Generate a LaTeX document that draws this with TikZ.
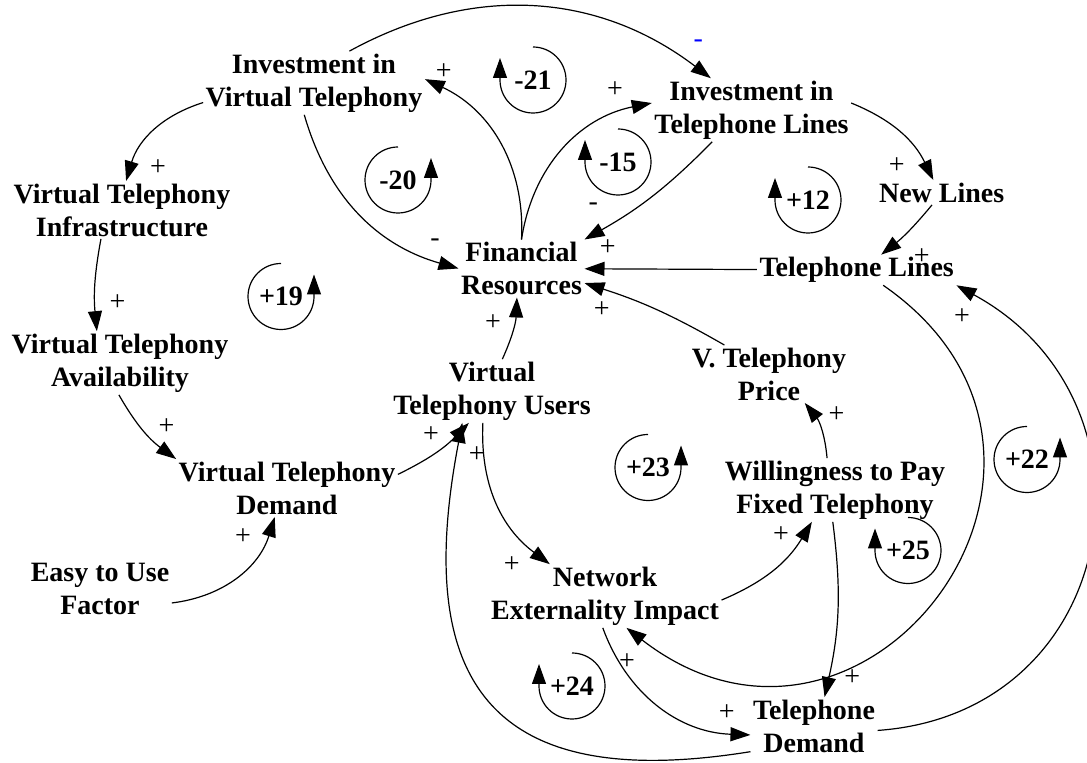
\documentclass[tikz,border=0pt]{standalone}
\usepackage{fontspec}
\setmainfont{Liberation Serif}
\usetikzlibrary{arrows.meta}

\begin{document}
\begin{tikzpicture}[->,>={Triangle[length=10pt,width=7pt]},x=0.5pt,y=-0.5pt,line width=0.6pt,
                    var/.style={align=center,inner sep=1pt,font=\bfseries\fontsize{14}{16.5}\selectfont},
                    pol/.style={inner sep=0pt,font=\fontsize{14}{14}\selectfont},
                    loop label/.style={inner sep=0pt,font=\bfseries\fontsize{14}{16.5}\selectfont}]

  \useasboundingbox (0,0) rectangle (1087,763);

  \node[var] (ivt) at (314,83) {Investment in\\Virtual Telephony};
  \node[var] (vti) at (122,210) {Virtual Telephony\\Infrastructure};
  \node[var] (vta) at (120,363) {Virtual Telephony\\Availability};
  \node[var] (vtd) at (287,488) {Virtual Telephony\\Demand};
  \node[var] (easy) at (100,589) {Easy to Use\\Factor};
  \node[var] (finres) at (521.5,268.5) {Financial\\Resources};
  \node[var] (vtu) at (492,391) {Virtual\\Telephony Users};
  \node[var] (price) at (769,374) {V. Telephony\\Price};
  \node[var] (wtp) at (835,490) {Willingness to Pay\\Fixed Telephony};
  \node[var] (itl) at (751.5,110) {Investment in\\Telephone Lines};
  \node[var] (newl) at (941.7,192.5) {New Lines};
  \node[var] (tell) at (856.7,270) {Telephone Lines};
  \node[var] (nei) at (605,596) {Network\\Externality Impact};
  \node[var] (teld) at (814,726) {Telephone\\Demand};

  \path (ivt.190) edge[bend right=28] (vti.82);
  \path (vti.234) edge[bend right=8] (vta.126);
  \path (vta.268) edge[bend right=12] (vtd.north west);
  \path (easy.349) edge[bend right=33] (vtd.247);
  \path (vtd.7) edge[bend right=10] (vtu.234);
  \path (vtu.72) edge[bend right=11] (finres.261);
  \path (vtu.254) edge[bend right=28] (nei.150);
  \draw (teld.202) .. controls +(-260,42) and +(-50,260) .. (vtu.227);
  \path (nei.358) edge[bend right=18] (wtp.234);
  \path (wtp.104) edge[bend right=17] (price.321);
  \path (wtp.266) edge[bend left=10] (teld.70);
  \draw (tell.330) .. controls +(250,173) and +(240,186) .. (nei.304);
  \path (nei.266) edge[bend right=34] (teld.188);
  \draw (teld.356) .. controls +(244,-17) and +(215,117) .. (tell.south east);
%  \path (tell) edge[bend left=5] (finres);
  \path (tell) edge (finres);
  \path (price.147) edge[bend right=6] (finres.347);
  \path (itl.219) edge[bend left=8] (finres.north east);
  \path (finres.north) edge[bend left=35] (itl.176);
  \path (finres.north) edge[bend right=34] (ivt.2);
  \path (ivt.253) edge[bend right=29] (finres.west);
  \path (ivt.42) edge[bend left=33] (itl.142);
  \path (itl.4) edge[bend left=21] (newl.124);
  \path (newl.232) edge[bend left=6] (tell.32);

  \node[pol] (p1) at (158,168) {+};
  \node[pol] (p2) at (117.5,303) {+};
  \node[pol] (p3) at (166.6,427) {+};
  \node[pol] (p4) at (243,537) {+};
  \node[pol] (p5) at (431,435) {+};
  \node[pol] (p6) at (493,323) {+};
  \node[pol] (p7) at (476.7,455) {+};
  \node[pol] (p8) at (511.7,565) {+};
  \node[pol] (p9) at (781,535) {+};
  \node[pol] (p10) at (836.6,415) {+};
  \node[pol] (p11) at (852.3,678) {+};
  \node[pol] (p12) at (627,662) {+};
  \node[pol] (p13) at (726.7,713) {+};
  \node[pol] (p14) at (962,317) {+};
  \node[pol] (p15) at (607.7,248) {+};
  \node[pol] (p16) at (601.7,310) {+};
  \node[pol] (p17) at (593.3,207) {-};
  \node[pol] (p18) at (615,90) {+};
  \node[pol] (p19) at (443.7,72) {+};
  \node[pol] (p20) at (435,243) {-};
  \node[pol,text=blue] (p21) at (698.3,44) {-};
  \node[pol] (p22) at (896.7,166) {+};
  \node[pol] (p23) at (921.7,257) {+};

  \node[loop label] (l21) at (533,80) {-21};
  \draw ([yshift=16.5pt]l21.center) arc[start angle=90,end angle=-180,radius=16.5pt] -- ++(0,-22);
  \node[loop label] (l20) at (398,180) {-20};
  \draw ([yshift=16.5pt]l20.center) arc[start angle=90,end angle=360,radius=16.5pt] -- ++(0,-22);
  \node[loop label] (l15) at (618,162) {-15};
  \draw ([yshift=16.5pt]l15.center) arc[start angle=90,end angle=-180,radius=16.5pt] -- ++(0,-22);
  \node[loop label] (l12) at (808,200) {+12};
  \draw ([yshift=16.5pt]l12.center) arc[start angle=90,end angle=-180,radius=16.5pt] -- ++(0,-22);
  \node[loop label] (l19) at (281,296.5) {+19};
  \draw ([yshift=16.5pt]l19.center) arc[start angle=90,end angle=360,radius=16.5pt] -- ++(0,-22);
  \node[loop label] (l23) at (648,467.5) {+23};
  \draw ([yshift=16.5pt]l23.center) arc[start angle=90,end angle=360,radius=16.5pt] -- ++(0,-22);
  \node[loop label] (l22) at (1027,459.5) {+22};
  \draw ([yshift=16.5pt]l22.center) arc[start angle=90,end angle=360,radius=16.5pt] -- ++(0,-22);
  \node[loop label] (l25) at (908,550.5) {+25};
  \draw ([yshift=16.5pt]l25.center) arc[start angle=90,end angle=-180,radius=16.5pt] -- ++(0,-22);
  \node[loop label] (l24) at (572,686) {+24};
  \draw ([yshift=16.5pt]l24.center) arc[start angle=90,end angle=-180,radius=16.5pt] -- ++(0,-22);

\end{tikzpicture}
\end{document}
